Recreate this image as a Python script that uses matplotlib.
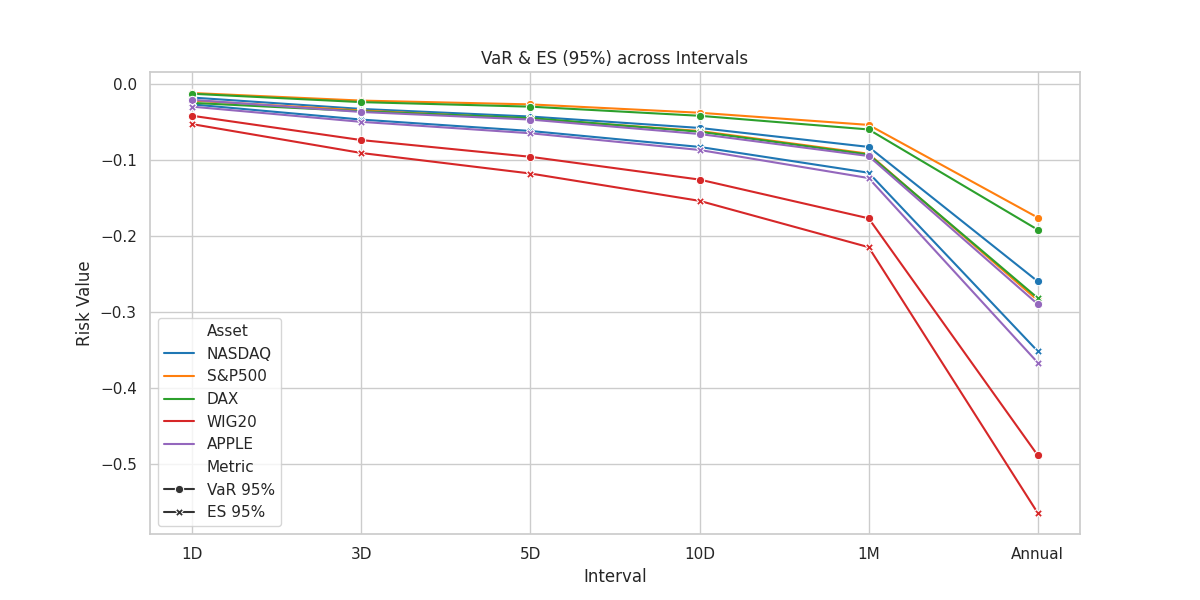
import pandas as pd
import seaborn as sns
import matplotlib.pyplot as plt

sns.set_theme(style="whitegrid")

intervals = ["1D", "3D", "5D", "10D", "1M", "Annual"]
assets = ["NASDAQ", "S&P500", "DAX", "WIG20", "APPLE"]

var95 = {
    "NASDAQ": [-0.018, -0.033, -0.043, -0.058, -0.083, -0.260],
    "S&P500": [-0.012, -0.022, -0.027, -0.038, -0.054, -0.176],
    "DAX":    [-0.013, -0.024, -0.030, -0.042, -0.060, -0.192],
    "WIG20":  [-0.042, -0.074, -0.096, -0.126, -0.177, -0.489],
    "APPLE":  [-0.021, -0.037, -0.047, -0.066, -0.095, -0.290],
}
es95 = {
    "NASDAQ": [-0.027, -0.047, -0.062, -0.083, -0.117, -0.352],
    "S&P500": [-0.022, -0.035, -0.046, -0.062, -0.092, -0.285],
    "DAX":    [-0.025, -0.036, -0.045, -0.063, -0.093, -0.282],
    "WIG20":  [-0.053, -0.091, -0.118, -0.154, -0.215, -0.565],
    "APPLE":  [-0.030, -0.050, -0.065, -0.087, -0.124, -0.367],
}

rows = []
for metric, d in [("VaR 95%", var95), ("ES 95%", es95)]:
    for a in assets:
        for iv, v in zip(intervals, d[a]):
            rows.append({"Interval": iv, "Asset": a, "Metric": metric, "Risk Value": v})
df = pd.DataFrame(rows)

fig, ax = plt.subplots(figsize=(12, 6), dpi=100)
sns.lineplot(data=df, x="Interval", y="Risk Value", hue="Asset", style="Metric",
             markers=True, dashes=False, palette="tab10", ax=ax)
ax.set_title("VaR & ES (95%) across Intervals")
sns.move_legend(ax, "lower left")
plt.savefig("out.png", dpi=100)
